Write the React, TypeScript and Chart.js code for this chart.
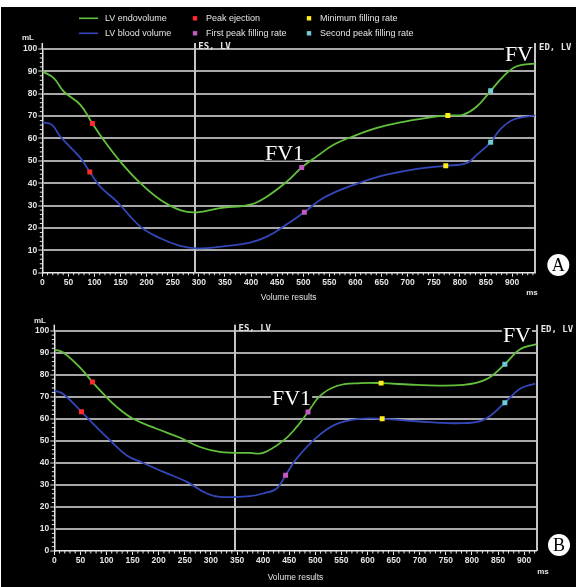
import React, { useEffect, useRef } from 'react';
import { Chart, registerables } from 'chart.js';

Chart.register(...registerables);

// ---------- shared labels ----------
const curveNames = ['LV endovolume', 'LV blood volume'];
const markerNames = ['Peak ejection', 'First peak filling rate', 'Minimum filling rate', 'Second peak filling rate'];
const yTickStep = 10;
const xTickStep = 50;
const panelLetters = ['A', 'B'];

// ---------- Panel A ----------
const msA_endo = [0, 22, 41, 73, 96, 117, 149, 188, 226, 264, 296, 341, 398, 430, 469, 497, 526, 558, 596, 641, 686, 737, 777, 807, 833, 859, 884, 909, 944];
const mlA_endo = [90, 87, 81, 75, 66.7, 59.5, 49.8, 40, 32.6, 28, 27, 28.9, 30.4, 34, 40.8, 47, 52, 57.2, 61, 64.7, 67.2, 69.2, 70.3, 70.7, 74.4, 81.3, 87.9, 92.3, 93.5];
const msA_blood = [0, 18, 34, 73, 91, 111, 143, 188, 226, 264, 296, 354, 398, 430, 462, 502, 533, 571, 609, 660, 718, 773, 813, 833, 859, 877, 903, 944];
const mlA_blood = [67.2, 66.2, 61, 51.3, 45, 38.5, 31.8, 20.6, 15.4, 12, 10.9, 12, 13.4, 16.1, 20.6, 27, 32.6, 37, 40.3, 43.8, 46.4, 47.8, 49, 52.8, 58.3, 64, 68.5, 70.3];
const markA_endo_ms = [96, 497, 777, 859];
const markA_endo_ml = [66.7, 47, 70.3, 81.3];
const markA_blood_ms = [91, 502, 773, 859];
const markA_blood_ml = [45, 27, 47.8, 58.3];
const esA = 293;
const xMaxA = 944;

// ---------- Panel B ----------
const msB_endo = [0, 17, 49, 73, 94, 120, 151, 196, 241, 279, 317, 375, 400, 439, 464, 486, 509, 541, 586, 626, 694, 784, 828, 863, 892, 924];
const mlB_endo = [91.4, 90.1, 83.3, 76.7, 71.3, 65.3, 60, 55.5, 51.4, 47.2, 45, 44.5, 44.5, 50.2, 56.2, 63.1, 70.4, 74.9, 76.2, 76.2, 75.4, 75.4, 78, 84.8, 91.6, 93.9];
const msB_blood = [0, 17, 52, 81, 107, 139, 171, 209, 254, 292, 317, 375, 400, 426, 443, 464, 503, 541, 586, 628, 694, 771, 822, 863, 892, 921];
const mlB_blood = [72.8, 71.3, 63.2, 56.2, 50.2, 43.4, 39.9, 35.9, 31.4, 26.1, 24.6, 24.9, 26.1, 28.4, 34.4, 41.9, 51.7, 57.7, 60, 60, 58.9, 58, 59.5, 67.3, 73.6, 76];
const markB_endo_ms = [73, 486, 626, 863];
const markB_endo_ml = [76.7, 63.1, 76.2, 84.8];
const markB_blood_ms = [52, 443, 628, 863];
const markB_blood_ml = [63.2, 34.4, 60, 67.3];
const esB = 347;
const xMaxB = 924;

// ---------- styles ----------
const GREEN = '#62c03c';
const BLUE = '#3447b8';
const MARK_COLORS = ['#ff2b2b', '#c45ac4', '#ffee1a', '#70ccd4'];
const GRID = '#a8a8a8';
const AXIS = '#e6e6e6';
const VLINE = '#c4c4c4';
const TEXT = '#e4e4e4';
const TICK_FONT = "'Liberation Sans Narrow', 'Liberation Sans', Arial, sans-serif";
const SANS = "'Liberation Sans', Arial, sans-serif";
const MONO = "'DejaVu Sans Mono', monospace";
const SERIF = "'Liberation Serif', 'DejaVu Serif', serif";

type Panel = {
  letter: string;
  canvasTop: number; canvasH: number;
  plotLeft: number; plotRight: number; plotTop: number; plotBottom: number;
  xMax: number; esMs: number;
  endoMs: number[]; endoMl: number[]; bloodMs: number[]; bloodMl: number[];
  mEndoMs: number[]; mEndoMl: number[]; mBloodMs: number[]; mBloodMl: number[];
  letterX: number; letterY: number;
  fv1X: number; fv1Y: number; fvRight: number; fvY: number;
  mlX: number; mlY: number; msX: number; msY: number; volY: number;
  legend: boolean;
};

const panelA: Panel = {
  letter: panelLetters[0], canvasTop: 0, canvasH: 305,
  plotLeft: 42.3, plotRight: 535, plotTop: 49, plotBottom: 272.7,
  xMax: xMaxA, esMs: esA,
  endoMs: msA_endo, endoMl: mlA_endo, bloodMs: msA_blood, bloodMl: mlA_blood,
  mEndoMs: markA_endo_ms, mEndoMl: markA_endo_ml, mBloodMs: markA_blood_ms, mBloodMl: markA_blood_ml,
  letterX: 558.3, letterY: 265,
  fv1X: 265, fv1Y: 160, fvRight: 533, fvY: 61,
  mlX: 28, mlY: 38, msX: 532, msY: 293, volY: 298,
  legend: true,
};

const panelB: Panel = {
  letter: panelLetters[1], canvasTop: 305, canvasH: 282,
  plotLeft: 54.3, plotRight: 536.7, plotTop: 330.7, plotBottom: 551,
  xMax: xMaxB, esMs: esB,
  endoMs: msB_endo, endoMl: mlB_endo, bloodMs: msB_blood, bloodMl: mlB_blood,
  mEndoMs: markB_endo_ms, mEndoMl: markB_endo_ml, mBloodMs: markB_blood_ms, mBloodMl: markB_blood_ml,
  letterX: 559, letterY: 545,
  fv1X: 272, fv1Y: 405, fvRight: 531, fvY: 341.5,
  mlX: 40, mlY: 321, msX: 543, msY: 572, volY: 578,
  legend: false,
};

const zip = (xs: number[], ys: number[]) => xs.map((x, i) => ({ x, y: ys[i] }));

function drawFV(ctx: CanvasRenderingContext2D, text: string, x: number, y: number, align: CanvasTextAlign) {
  ctx.font = `22px ${SERIF}`;
  ctx.textAlign = align;
  ctx.textBaseline = 'alphabetic';
  const w = ctx.measureText(text).width;
  const left = align === 'right' ? x - w : x;
  ctx.fillStyle = '#000';
  ctx.fillRect(left - 1, y - 15, w + 2, 15.5);
  ctx.fillStyle = '#ffffff';
  ctx.fillText(text, x, y);
}

function makeDecor(p: Panel) {
  const off = p.canvasTop;
  return {
    id: 'decor' + p.letter,
    beforeDatasetsDraw(chart: any) {
      const { ctx, chartArea: ca, scales } = chart;
      const x = scales.x;
      const y = scales.y;
      ctx.save();
      ctx.strokeStyle = VLINE;
      ctx.lineWidth = 2;
      [p.esMs, p.xMax].forEach((v) => {
        const px = Math.round(x.getPixelForValue(v));
        ctx.beginPath();
        ctx.moveTo(px, ca.top - 6);
        ctx.lineTo(px, ca.bottom);
        ctx.stroke();
      });
      ctx.strokeStyle = AXIS;
      ctx.lineWidth = 1.5;
      ctx.beginPath();
      ctx.moveTo(ca.left, ca.top - 6);
      ctx.lineTo(ca.left, ca.top);
      ctx.stroke();
      ctx.lineWidth = 1;
      for (let v = 10; v < p.xMax; v += 10) {
        if (v % xTickStep === 0) continue;
        const px = x.getPixelForValue(v);
        ctx.beginPath();
        ctx.moveTo(px, ca.bottom);
        ctx.lineTo(px, ca.bottom + 2.5);
        ctx.stroke();
      }
      for (let v = 2; v < 100; v += 2) {
        if (v % yTickStep === 0) continue;
        const py = y.getPixelForValue(v);
        ctx.beginPath();
        ctx.moveTo(ca.left - 2.5, py);
        ctx.lineTo(ca.left, py);
        ctx.stroke();
      }
      ctx.restore();
    },
    afterDraw(chart: any) {
      const { ctx, chartArea: ca, scales } = chart;
      const x = scales.x;
      ctx.save();
      // ES / ED labels
      ctx.font = `bold 9px ${MONO}`;
      ctx.fillStyle = TEXT;
      ctx.textAlign = 'left';
      ctx.textBaseline = 'middle';
      ctx.fillText('ES, LV', x.getPixelForValue(p.esMs) + 3, ca.top - 2);
      ctx.fillText('ED, LV', ca.right + 4, ca.top - 1);
      // units and axis title
      ctx.font = `bold 8px ${SANS}`;
      ctx.textAlign = 'center';
      ctx.fillText('mL', p.mlX, p.mlY - off);
      ctx.fillText('ms', p.msX, p.msY - off);
      ctx.font = `8.5px ${SANS}`;
      ctx.fillText('Volume results', (ca.left + ca.right) / 2, p.volY - off);
      // FV annotations
      drawFV(ctx, 'FV1', p.fv1X, p.fv1Y - off, 'left');
      drawFV(ctx, 'FV', p.fvRight, p.fvY - off, 'right');
      // panel letter
      ctx.beginPath();
      ctx.arc(p.letterX, p.letterY - off, 11, 0, Math.PI * 2);
      ctx.fillStyle = '#ffffff';
      ctx.fill();
      ctx.fillStyle = '#000';
      ctx.font = `18px ${SERIF}`;
      ctx.textAlign = 'center';
      ctx.textBaseline = 'middle';
      ctx.fillText(p.letter, p.letterX, p.letterY - off + 1);
      // legend
      if (p.legend) {
        const rows = [18.3 - off, 33.3 - off];
        ctx.font = `9px ${SANS}`;
        ctx.textAlign = 'left';
        ctx.textBaseline = 'middle';
        [GREEN, BLUE].forEach((c, i) => {
          ctx.strokeStyle = c;
          ctx.lineWidth = 1.6;
          ctx.beginPath();
          ctx.moveTo(79, rows[i]);
          ctx.lineTo(98, rows[i]);
          ctx.stroke();
          ctx.fillStyle = TEXT;
          ctx.fillText(curveNames[i], 105, rows[i]);
        });
        const cols = [195, 309];
        markerNames.forEach((name, i) => {
          const cx = cols[Math.floor(i / 2)];
          const cy = rows[i % 2];
          ctx.fillStyle = MARK_COLORS[i];
          ctx.fillRect(cx - 2.2, cy - 2.2, 4.4, 4.4);
          ctx.fillStyle = TEXT;
          ctx.fillText(name, cx + 11, cy);
        });
      }
      ctx.restore();
    },
  };
}

function buildConfig(p: Panel): any {
  const tickFont = { family: TICK_FONT, size: 8.5, weight: 'bold' as const };
  const datasets: any[] = [
    {
      label: curveNames[0], data: zip(p.endoMs, p.endoMl), showLine: true,
      borderColor: GREEN, borderWidth: 1.8, pointRadius: 0, tension: 0.4, order: 1,
    },
    {
      label: curveNames[1], data: zip(p.bloodMs, p.bloodMl), showLine: true,
      borderColor: BLUE, borderWidth: 1.8, pointRadius: 0, tension: 0.4, order: 1,
    },
    ...markerNames.map((name, i) => ({
      label: name,
      data: [{ x: p.mEndoMs[i], y: p.mEndoMl[i] }, { x: p.mBloodMs[i], y: p.mBloodMl[i] }],
      showLine: false, pointStyle: 'rect', pointRadius: 3.5, pointBorderWidth: 0,
      backgroundColor: MARK_COLORS[i], borderColor: MARK_COLORS[i], order: 0,
    })),
  ];
  return {
    type: 'scatter',
    data: { datasets },
    options: {
      responsive: false,
      animation: false,
      events: [],
      layout: { padding: { left: 0, right: 576 - p.plotRight, top: p.plotTop - p.canvasTop, bottom: 0 } },
      plugins: { legend: { display: false }, tooltip: { enabled: false } },
      scales: {
        x: {
          type: 'linear', min: 0, max: p.xMax,
          afterBuildTicks: (s: any) => { s.ticks = s.ticks.filter((t: any) => t.value % xTickStep === 0); },
          afterFit: (s: any) => { s.height = p.canvasTop + p.canvasH - p.plotBottom; },
          ticks: { stepSize: xTickStep, includeBounds: false, autoSkip: false, maxRotation: 0, color: TEXT, font: tickFont, padding: 1 },
          grid: { drawOnChartArea: false, drawTicks: true, tickLength: 4, tickColor: AXIS, tickWidth: 1 },
          border: { display: true, color: AXIS, width: 1.5 },
        },
        y: {
          type: 'linear', min: 0, max: 100,
          afterFit: (s: any) => { s.width = p.plotLeft; },
          ticks: { stepSize: yTickStep, color: TEXT, font: tickFont, padding: 1 },
          grid: {
            color: (c: any) => (c.tick && c.tick.value === 0 ? 'rgba(0,0,0,0)' : GRID),
            lineWidth: 2, drawTicks: true, tickLength: 4, tickColor: AXIS, tickWidth: 1,
          },
          border: { display: true, color: AXIS, width: 1.5 },
        },
      },
    },
    plugins: [makeDecor(p)],
  };
}

export default function App() {
  const refA = useRef<HTMLCanvasElement>(null);
  const refB = useRef<HTMLCanvasElement>(null);
  useEffect(() => {
    const ca = new Chart(refA.current as HTMLCanvasElement, buildConfig(panelA));
    const cb = new Chart(refB.current as HTMLCanvasElement, buildConfig(panelB));
    return () => { ca.destroy(); cb.destroy(); };
  }, []);
  return (
    <div style={{ position: 'absolute', left: 0, top: 0, width: 576, height: 587, background: '#fff', overflow: 'hidden' }}>
      <div style={{ position: 'absolute', left: 1, top: 7, right: 0, bottom: 0, background: '#000' }} />
      <canvas ref={refA} width={576} height={panelA.canvasH}
        style={{ position: 'absolute', left: 0, top: panelA.canvasTop, width: 576, height: panelA.canvasH }} />
      <canvas ref={refB} width={576} height={panelB.canvasH}
        style={{ position: 'absolute', left: 0, top: panelB.canvasTop, width: 576, height: panelB.canvasH }} />
    </div>
  );
}
